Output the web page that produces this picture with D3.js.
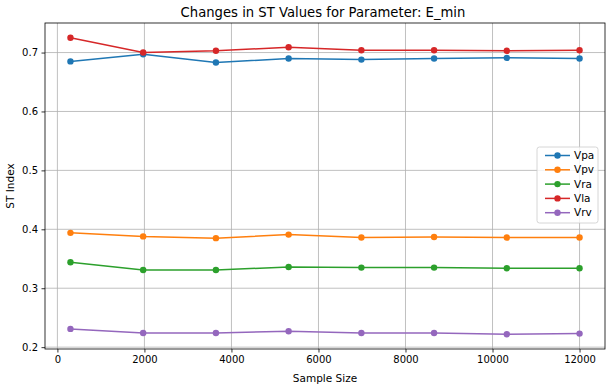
<!DOCTYPE html>
<html>
<head>
<meta charset="utf-8">
<script src="https://cdn.jsdelivr.net/npm/d3@7"></script>
<style>
  body { margin: 0; background: #fff; }
  svg { display: block; font-family: "DejaVu Sans", sans-serif; }
</style>
</head>
<body>
<div id="chart"></div>
<script>
// sample sizes (x)
const sampleSizes = [300, 1971, 3643, 5314, 6986, 8657, 10329, 12000];

// ST index per parameter series
const vpa = [0.685, 0.697, 0.683, 0.690, 0.688, 0.690, 0.691, 0.690];
const vpv = [0.394, 0.388, 0.385, 0.391, 0.386, 0.387, 0.386, 0.386];
const vra = [0.344, 0.331, 0.331, 0.336, 0.335, 0.335, 0.334, 0.334];
const vla = [0.725, 0.700, 0.703, 0.709, 0.704, 0.704, 0.703, 0.704];
const vrv = [0.231, 0.224, 0.224, 0.227, 0.224, 0.224, 0.222, 0.223];

const seriesNames = ["Vpa", "Vpv", "Vra", "Vla", "Vrv"];
const seriesValues = [vpa, vpv, vra, vla, vrv];
const colors = ["#1f77b4", "#ff7f0e", "#2ca02c", "#d62728", "#9467bd"];

const xTicks = [0, 2000, 4000, 6000, 8000, 10000, 12000];
const yTicks = [0.2, 0.3, 0.4, 0.5, 0.6, 0.7];

const W = 609, H = 387;
const margin = { left: 45, right: 4, top: 23, bottom: 38 };

let svg = d3.select("#chart").append("svg")
  .attr("width", W).attr("height", H);

// matplotlib style 5% margins
let xmin = d3.min(sampleSizes), xmax = d3.max(sampleSizes);
let xpad = (xmax - xmin) * 0.05;
let allY = seriesValues.flat();
let ymin = d3.min(allY), ymax = d3.max(allY);
let ypad = (ymax - ymin) * 0.05;

const x = d3.scaleLinear().domain([xmin - xpad, xmax + xpad])
  .range([margin.left, W - margin.right]);
const y = d3.scaleLinear().domain([ymin - ypad, ymax + ypad])
  .range([H - margin.bottom, margin.top]);

// grid
let grid = svg.append("g");
grid.selectAll("line.gx").data(xTicks).join("line")
  .attr("x1", d => x(d)).attr("x2", d => x(d))
  .attr("y1", margin.top).attr("y2", H - margin.bottom)
  .attr("stroke", "#b0b0b0").attr("stroke-width", 0.8);
grid.selectAll("line.gy").data(yTicks).join("line")
  .attr("y1", d => y(d)).attr("y2", d => y(d))
  .attr("x1", margin.left).attr("x2", W - margin.right)
  .attr("stroke", "#b0b0b0").attr("stroke-width", 0.8);

// axes
let xAxis = svg.append("g")
  .attr("transform", `translate(0,${H - margin.bottom})`)
  .call(d3.axisBottom(x).tickValues(xTicks).tickFormat(d3.format("d")).tickSizeOuter(0).tickSize(3.5).tickPadding(3.5));
let yAxis = svg.append("g")
  .attr("transform", `translate(${margin.left},0)`)
  .call(d3.axisLeft(y).tickValues(yTicks).tickFormat(d3.format(".1f")).tickSizeOuter(0).tickSize(3.5).tickPadding(3.5));
[xAxis, yAxis].forEach(a => {
  a.select(".domain").remove();
  a.selectAll("text").attr("font-size", 10).attr("fill", "#000")
    .attr("font-family", "DejaVu Sans");
  a.selectAll(".tick line").attr("stroke", "#000").attr("stroke-width", 0.8);
});

// lines + markers
const line = d3.line().x((d, i) => x(sampleSizes[i])).y(d => y(d));
seriesValues.forEach((vals, k) => {
  let g = svg.append("g");
  g.append("path").datum(vals)
    .attr("d", line).attr("fill", "none")
    .attr("stroke", colors[k]).attr("stroke-width", 1.5);
  g.selectAll("circle").data(vals).join("circle")
    .attr("cx", (d, i) => x(sampleSizes[i])).attr("cy", d => y(d))
    .attr("r", 3.2).attr("fill", colors[k]);
});

// frame
svg.append("rect")
  .attr("x", margin.left).attr("y", margin.top)
  .attr("width", W - margin.left - margin.right)
  .attr("height", H - margin.top - margin.bottom)
  .attr("fill", "none").attr("stroke", "#000").attr("stroke-width", 0.8);

// title and labels
svg.append("text")
  .attr("x", (margin.left + W - margin.right) / 2 - 2).attr("y", 17)
  .attr("text-anchor", "middle").attr("font-size", 13.2)
  .text("Changes in ST Values for Parameter: E_min");
svg.append("text")
  .attr("x", (margin.left + W - margin.right) / 2).attr("y", H - 5)
  .attr("text-anchor", "middle").attr("font-size", 10.5)
  .text("Sample Size");
svg.append("text")
  .attr("transform", `translate(14,${(margin.top + H - margin.bottom) / 2}) rotate(-90)`)
  .attr("text-anchor", "middle").attr("font-size", 10.5)
  .text("ST Index");

// legend
let lg = svg.append("g").attr("transform", "translate(537,147)");
lg.append("rect")
  .attr("width", 61).attr("height", 76).attr("rx", 2.5)
  .attr("fill", "#fff").attr("fill-opacity", 0.8)
  .attr("stroke", "#cccccc").attr("stroke-width", 0.8);
seriesNames.forEach((name, k) => {
  let yy = 8.5 + k * 14.3;
  lg.append("line").attr("x1", 8).attr("x2", 33).attr("y1", yy).attr("y2", yy)
    .attr("stroke", colors[k]).attr("stroke-width", 1.5);
  lg.append("circle").attr("cx", 20.5).attr("cy", yy).attr("r", 3.2).attr("fill", colors[k]);
  lg.append("text").attr("x", 37).attr("y", yy).attr("dy", "0.35em")
    .attr("font-size", 10.5).text(name);
});
</script>
</body>
</html>
